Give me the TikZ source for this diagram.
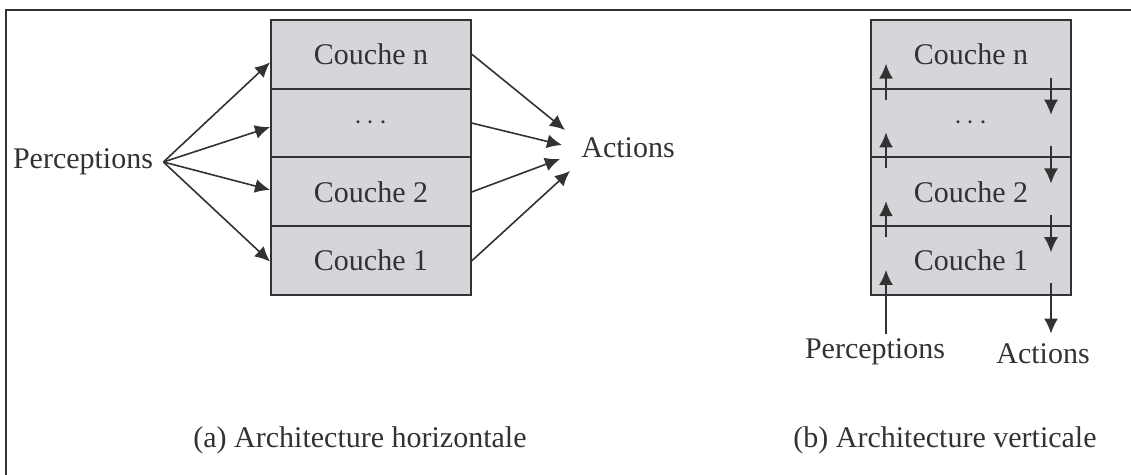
\documentclass[tikz,border=0pt]{standalone}
\usepackage{fontspec}
\setmainfont{Liberation Serif}
\usetikzlibrary{arrows.meta,calc}
\definecolor{layergray}{RGB}{214,213,218}
\definecolor{inkgray}{RGB}{50,50,50}

\begin{document}
\begin{tikzpicture}[x=0.5pt,y=-0.5pt,
  font=\fontsize{15}{18}\selectfont,
  layer/.style={draw=inkgray,line width=1pt,fill=layergray,text=inkgray,
    minimum width=100pt,minimum height=34.375pt,inner sep=0pt},
  lbl/.style={text=inkgray,inner sep=2pt},
  arr/.style={draw=inkgray,line width=0.8pt,-{Latex[length=7.5pt,width=7pt]}}]
  \useasboundingbox (0,0) rectangle (1131,475);
  % frame
  \draw[inkgray,line width=1pt] (6,475) -- (6,10) -- (1131,10);

  % (a) horizontal
  \node[layer] (hn) at (371,54.375) {Couche n};
  \node[layer] (hd) at (371,123.125) {$\cdots$};
  \node[layer] (h2) at (371,191.875) {Couche 2};
  \node[layer] (h1) at (371,260.625) {Couche 1};
  \node[lbl] (ph) at (83,162) {Perceptions};
  \node[lbl] (ah) at (628,148) {Actions};
  \coordinate (a1) at (565,130);
  \coordinate (a2) at (562,145);
  \coordinate (a3) at (560,159);
  \coordinate (a4) at (570,171);
  \foreach \t/\dy in {hn/8, hd/4, h2/-2, h1/1}
    \draw[arr] ([xshift=3pt]ph.east) -- ($(\t.west)+(0,\dy)$);
  \foreach \t/\c in {hn/a1, hd/a2, h2/a3, h1/a4}
    \draw[arr] (\t.east) -- (\c);
  \node[lbl] (capa) at (360,440) {(a) Architecture horizontale};

  % (b) vertical
  \node[layer] (vn) at (971,54.375) {Couche n};
  \node[layer] (vd) at (971,123.125) {$\cdots$};
  \node[layer] (v2) at (971,191.875) {Couche 2};
  \node[layer] (v1) at (971,260.625) {Couche 1};
  \node[lbl] (pv) at (875,352) {Perceptions};
  \node[lbl] (av) at (1043,354) {Actions};
  \foreach \b in {vd, v2, v1} {
    \draw[arr] ($(\b.north west)+(16,12)$) -- ($(\b.north west)+(16,-24)$);
    \draw[arr] ($(\b.north east)+(-21,-10)$) -- ($(\b.north east)+(-21,27)$);
  }
  \coordinate (upx) at ($(v1.south west)+(16,-26)$);
  \coordinate (dnx) at ($(v1.south east)+(-21,-13)$);
  \draw[arr] (upx |- pv.north) -- (upx);
  \draw[arr] (dnx) -- ([yshift=3pt]dnx |- av.north);
  \node[lbl] (capb) at (945,440) {(b) Architecture verticale};
\end{tikzpicture}
\end{document}
